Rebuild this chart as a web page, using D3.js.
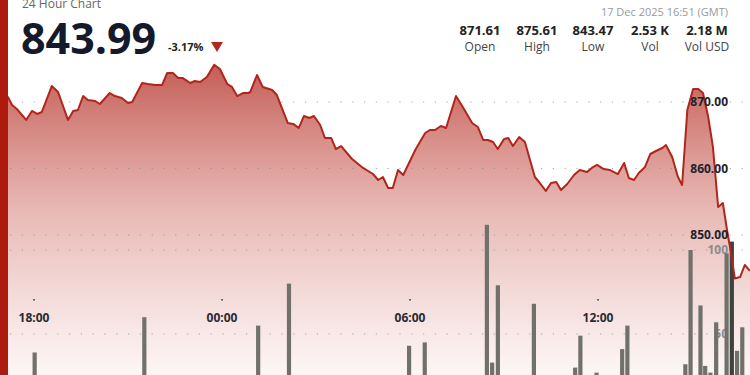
<!DOCTYPE html>
<html>
<head>
<meta charset="utf-8">
<script src="https://cdn.jsdelivr.net/npm/d3@7"></script>
<style>
  body { margin: 0; background: #fff; overflow: hidden; }
  svg { display: block; font-family: "Open Sans", "Noto Sans", sans-serif; }
</style>
</head>
<body>
<div id="chart"></div>
<script>
// price series, 24h, times wrap past midnight
var priceTimes = ["16:51","17:10","17:18","17:27","17:45","17:56","18:06","18:15","18:34","18:46",
  "19:05","19:15","19:24","19:34","19:43","19:57","20:06","20:25","20:35","20:48",
  "21:00","21:08","21:27","21:38","21:52","22:05","22:15","22:26","22:36","22:45",
  "22:59","23:08","23:18","23:31","23:45","23:56","00:10","00:19","00:29","00:40",
  "00:50","00:54","01:07","01:18","01:36","01:45","02:06","02:16","02:27","02:37",
  "02:47","02:56","03:08","03:17","03:29","03:38","03:48","04:09","04:30","04:49",
  "04:59","05:08","05:18","05:27","05:37","05:47","06:10","06:29","06:38","06:48",
  "06:59","07:09","07:28","07:41","07:59","08:10","08:20","08:29","08:39","08:48",
  "09:00","09:08","09:17","09:29","09:40","09:59","10:07","10:20","10:30","10:40",
  "10:49","11:01","11:14","11:25","11:39","11:48","11:58","12:11","12:23","12:38",
  "12:50","12:59","13:09","13:18","13:30","13:40","13:51","14:03","14:10","14:22",
  "14:33","14:41","14:51","15:02","15:12","15:21","15:31","15:40","15:50","15:59",
  "16:07","16:13","16:22","16:32","16:41","16:51"];
var priceValues = [871.61,870.75,869.55,868.95,867.30,868.65,868.20,868.50,872.40,871.50,
  867.30,868.65,868.80,870.90,870.30,870.15,869.70,871.35,870.90,870.60,
  869.85,870.00,872.86,872.70,872.55,872.55,874.36,874.36,873.60,873.60,
  872.86,873.16,873.00,873.76,875.61,874.96,872.70,872.26,870.90,871.35,
  871.35,871.50,874.06,872.26,871.80,871.05,866.84,866.70,866.10,867.90,
  867.60,867.90,866.54,864.59,864.59,862.93,863.38,861.43,860.08,859.17,
  858.27,858.72,857.07,857.07,859.77,859.02,862.78,865.34,865.79,865.79,
  866.39,866.09,870.90,869.25,866.84,866.24,864.29,864.29,863.98,862.93,
  864.44,864.59,863.38,864.74,863.98,858.72,857.97,856.62,857.82,857.97,
  856.77,857.67,859.02,859.77,859.47,860.08,860.53,859.92,859.77,859.17,
  860.83,858.57,858.27,859.32,860.23,862.18,862.63,863.08,863.53,861.73,
  858.72,857.52,868.80,871.95,871.95,871.35,867.74,863.23,854.21,854.81,
  850.75,848.05,843.47,843.68,845.49,844.60];

// volume bars
var volTimes = ["18:01","21:31","01:09","02:08","05:58","06:28","08:27","08:37","08:48","09:57",
  "11:16","11:26","11:57","12:46","12:56","14:47","14:57","15:16","15:25","15:35",
  "15:46","16:06","16:16","16:26","16:36"];
var volValues = [39,60,55,80,43,45,115,33,79,68,30,49,27,41,55,32,100,67,31,27,57,98,105,40,54];
var volHighlight = "16:16";

var priceTicks = [850, 860, 870];
var volTicks = [50, 100];

var statValues = ["871.61","875.61","843.47","2.53 K","2.18 M"];
var statLabels = ["Open","High","Low","Vol","Vol USD"];

var W = 750, H = 375;

// turn HH:MM into dates, rolling over midnight
function toDates(arr, startDay) {
  var day = startDay, prev = -1;
  return arr.map(function(s) {
    var p = s.split(':'), m = (+p[0]) * 60 + (+p[1]);
    if (prev >= 0 && m < prev) day++;
    prev = m;
    return new Date(2025, 11, day, +p[0], +p[1]);
  });
}
var pDates = toDates(priceTimes, 16);
var vDates = toDates(volTimes, 16);

var prices = pDates.map(function(d, i) { return { t: d, v: priceValues[i] }; });
var vols = vDates.map(function(d, i) { return { t: d, v: volValues[i], hi: volTimes[i] === volHighlight }; });

var x = d3.scaleTime()
  .domain([new Date(2025, 11, 16, 16, 51), new Date(2025, 11, 17, 16, 51)])
  .range([-2, 750]);
var y = d3.scaleLinear().domain([850, 870]).range([235, 102]);
var yv = d3.scaleLinear().domain([0, 100]).range([418, 250]);

var svg = d3.select('#chart').append('svg')
  .attr('width', W).attr('height', H);

var defs = svg.append('defs');
var grad = defs.append('linearGradient')
  .attr('id', 'areaGrad')
  .attr('gradientUnits', 'userSpaceOnUse')
  .attr('x1', 0).attr('x2', 0).attr('y1', 64).attr('y2', H);
grad.append('stop').attr('offset', '0%').attr('stop-color', '#b5342b').attr('stop-opacity', 0.8);
grad.append('stop').attr('offset', '45%').attr('stop-color', '#c2473e').attr('stop-opacity', 0.4);
grad.append('stop').attr('offset', '100%').attr('stop-color', '#d06a60').attr('stop-opacity', 0.06);

var area = d3.area()
  .x(function(d) { return x(d.t); })
  .y0(H)
  .y1(function(d) { return y(d.v); });

var line = d3.line()
  .x(function(d) { return x(d.t); })
  .y(function(d) { return y(d.v); });

svg.append('path').datum(prices)
  .attr('d', area)
  .attr('fill', 'url(#areaGrad)');

// dotted grid lines
var gridY = priceTicks.map(y).concat(volTicks.map(yv));
svg.selectAll('.grid').data(gridY).enter()
  .append('line')
  .attr('class', 'grid')
  .attr('x1', 10).attr('x2', W)
  .attr('y1', function(d) { return d; })
  .attr('y2', function(d) { return d; })
  .attr('stroke', '#8a8a8a')
  .attr('stroke-opacity', 0.7)
  .attr('stroke-width', 1.2)
  .attr('stroke-dasharray', '1.2,10.6');

// volume labels sit behind bars
svg.selectAll('.vlab').data(volTicks).enter()
  .append('text')
  .attr('x', 728)
  .attr('y', function(d) { return yv(d); })
  .attr('dy', '0.35em')
  .attr('text-anchor', 'end')
  .attr('fill', '#8c8c8c')
  .style('font-size', '12px')
  .style('font-weight', 700)
  .text(function(d) { return d; });

svg.selectAll('.bar').data(vols).enter()
  .append('rect')
  .attr('x', function(d) { return x(d.t) - 2; })
  .attr('width', 4.2)
  .attr('y', function(d) { return yv(d.v); })
  .attr('height', function(d) { return yv(0) - yv(d.v); })
  .attr('fill', function(d) { return d.hi ? '#3e423e' : '#71716b'; });

svg.append('path').datum(prices)
  .attr('d', line)
  .attr('fill', 'none')
  .attr('stroke', '#b0261c')
  .attr('stroke-width', 2)
  .attr('stroke-linejoin', 'round');

// price labels
svg.selectAll('.plab').data(priceTicks).enter()
  .append('text')
  .attr('x', 728)
  .attr('y', function(d) { return y(d); })
  .attr('dy', '0.35em')
  .attr('text-anchor', 'end')
  .attr('fill', '#22222a')
  .style('font-size', '12px')
  .style('font-weight', 700)
  .text(function(d) { return d.toFixed(2); });

// time axis
var xTicks = x.ticks(d3.timeHour.every(6));
var xg = svg.selectAll('.xt').data(xTicks).enter().append('g')
  .attr('transform', function(d) { return 'translate(' + x(d) + ',0)'; });
xg.append('rect').attr('x', -0.8).attr('y', 299).attr('width', 1.6).attr('height', 1.6).attr('fill', '#444');
xg.append('text')
  .attr('y', 318)
  .attr('dy', '0.35em')
  .attr('text-anchor', 'middle')
  .attr('fill', '#2a2a33')
  .style('font-size', '12px')
  .style('font-weight', 700)
  .text(d3.timeFormat('%H:%M'));

// left red strip
svg.append('rect').attr('x', 0).attr('y', 0).attr('width', 8).attr('height', H).attr('fill', '#ad1a0e');

// header
svg.append('text').attr('x', 22).attr('y', 8)
  .attr('fill', '#666').style('font-size', '12px').text('24 Hour Chart');
svg.append('text').attr('x', 21).attr('y', 54)
  .attr('fill', '#141a2b').style('font-size', '43px').style('font-weight', 700)
  .text('843.99');
svg.append('text').attr('x', 168).attr('y', 51)
  .attr('fill', '#222').style('font-size', '11px').style('font-weight', 700)
  .text('-3.17%');
svg.append('path').attr('d', 'M211,42 L223,42 L217,52 Z').attr('fill', '#b0281e');

svg.append('text').attr('x', 728).attr('y', 16).attr('text-anchor', 'end')
  .attr('fill', '#9a9a9a').style('font-size', '11px').text('17 Dec 2025 16:51 (GMT)');

var statX = [480, 537, 593, 650, 707];
svg.selectAll('.sv').data(statValues).enter().append('text')
  .attr('x', function(d, i) { return statX[i]; }).attr('y', 35)
  .attr('text-anchor', 'middle').attr('fill', '#222')
  .style('font-size', '13px').style('font-weight', 700)
  .text(function(d) { return d; });
svg.selectAll('.sl').data(statLabels).enter().append('text')
  .attr('x', function(d, i) { return statX[i]; }).attr('y', 51)
  .attr('text-anchor', 'middle').attr('fill', '#444')
  .style('font-size', '12px')
  .text(function(d) { return d; });
</script>
</body>
</html>
